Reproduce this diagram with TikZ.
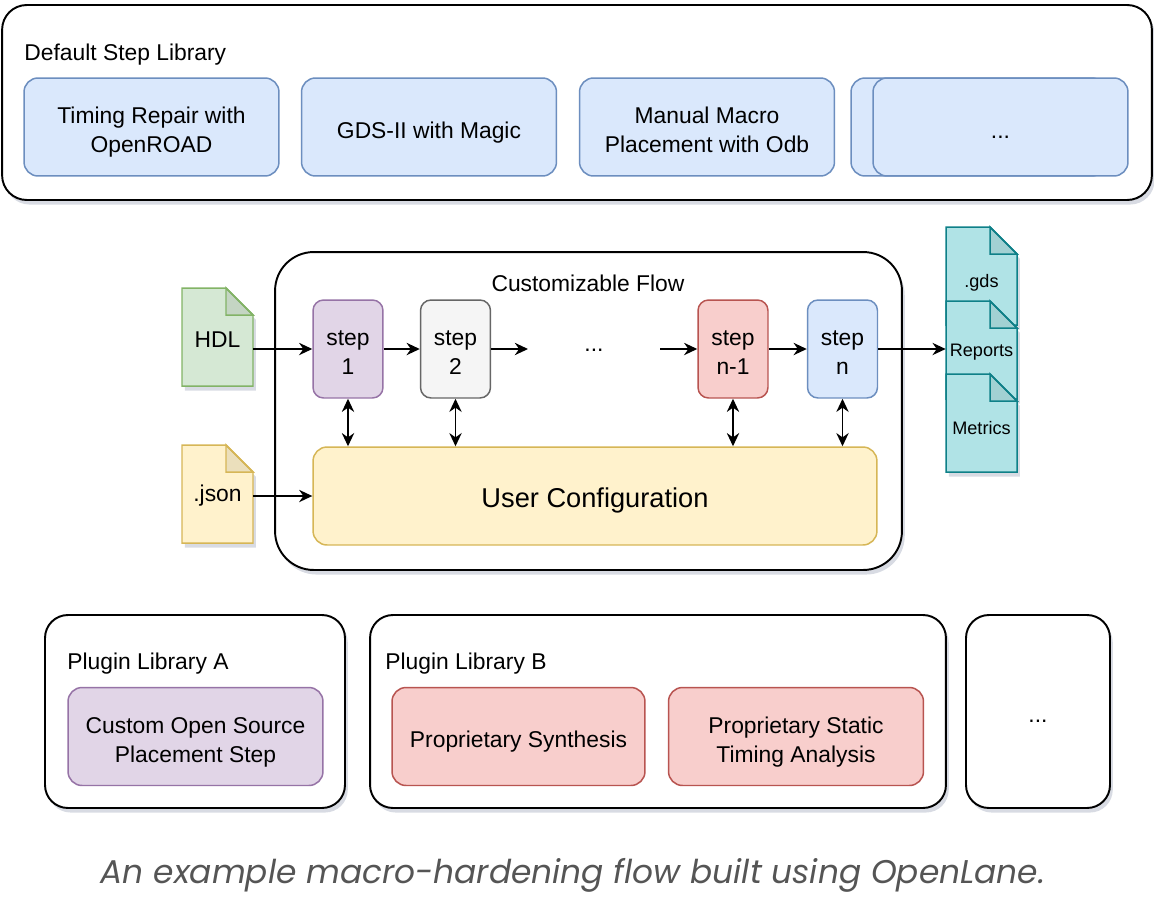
\documentclass[tikz,border=0pt]{standalone}
\usepackage{fontspec}
\setmainfont{Liberation Sans}
\newfontfamily\capfont{Poppins}
\usetikzlibrary{arrows.meta, positioning, calc, shadows}

\definecolor{BlueFill}{HTML}{DAE8FC}
\definecolor{BlueLine}{HTML}{6C8EBF}
\definecolor{PurpleFill}{HTML}{E1D5E7}
\definecolor{PurpleLine}{HTML}{9673A6}
\definecolor{RedFill}{HTML}{F8CECC}
\definecolor{RedLine}{HTML}{B85450}
\definecolor{GrayFill}{HTML}{F5F5F5}
\definecolor{GrayLine}{HTML}{666666}
\definecolor{GreenFill}{HTML}{D5E8D4}
\definecolor{GreenLine}{HTML}{82B366}
\definecolor{YellowFill}{HTML}{FFF2CC}
\definecolor{YellowLine}{HTML}{D6B656}
\definecolor{TealFill}{HTML}{B0E3E6}
\definecolor{TealLine}{HTML}{0E8088}
\definecolor{ShadowGray}{HTML}{7F89A3}
\definecolor{CaptionGray}{HTML}{555555}

% box text, set a little low as in the drawing tool
\newcommand{\boxtext}[1]{\raisebox{-3.2pt}[\height][\depth]{\begin{tabular}{@{}c@{}}#1\end{tabular}}}

\tikzset{
  softshadow/.style={drop shadow={shadow xshift=1.6pt, shadow yshift=-2.6pt,
                     fill=ShadowGray, opacity=0.3}},
  container/.style={draw=black, line width=1.1pt, fill=white, softshadow},
  libtitle/.style={anchor=west, inner sep=0pt, font=\fontsize{13}{16}\selectfont},
  stepbox/.style={rounded corners=8pt, line width=0.85pt,
                  minimum width=5.1cm, minimum height=1.96cm,
                  font=\fontsize{13}{16.4}\selectfont},
  flowstep/.style={rounded corners=6pt, line width=0.85pt,
                   minimum width=1.4cm, minimum height=1.96cm,
                   font=\fontsize{13}{16.4}\selectfont},
  bluebox/.style={fill=BlueFill, draw=BlueLine},
  docline/.style={line width=0.85pt},
  doclabel/.style={minimum width=1.42cm, inner sep=0pt},
  flowarrow/.style={line width=0.95pt, -{Stealth[length=7.5pt, width=7pt]}},
  bothways/.style={line width=0.95pt, {Stealth[length=7.5pt, width=7pt]}-{Stealth[length=7.5pt, width=7pt]}}
}

% dog-eared file: x, y of top left corner, fill, line
\newcommand{\docfile}[4]{%
  \filldraw[docline, fill=#3, draw=#4, softshadow]
    (#1,#2) -- ++(44,0) -- ++(27,27) -- (#1+71,#2+98) -- (#1,#2+98) -- cycle;
  \filldraw[docline, draw=#4, fill=black, fill opacity=0.08]
    (#1+44,#2) -- (#1+44,#2+27) -- (#1+71,#2+27) -- cycle;
}

\begin{document}
\begin{tikzpicture}[x=0.02cm, y=-0.02cm]
    \useasboundingbox (0,0) rectangle (1154,900);

    % Default step library
    \node[container, rounded corners=14pt, minimum width=23cm, minimum height=3.9cm] (default) at (577,102.5) {};
    \node[libtitle] (defaulttitle) at (24,55) {Default Step Library};
    \node[stepbox, bluebox] (timing) at (151.5,127) {\boxtext{Timing Repair with\\OpenROAD}};
    \node[stepbox, bluebox] (gds) at (429,127) {\boxtext{GDS-II with Magic}};
    \node[stepbox, bluebox] (macro) at (707,127) {\boxtext{Manual Macro\\Placement with Odb}};
    \node[stepbox, bluebox] (moreback) at (978.5,127) {};
    \node[stepbox, bluebox] (more) at (1000.5,127) {\boxtext{...}};

    % Customizable flow
    \node[container, rounded corners=22pt, minimum width=12.54cm, minimum height=6.36cm] (flow) at (588.5,411) {};
    \node[font=\fontsize{13}{16}\selectfont] (flowtitle) at (588,283) {Customizable Flow};
    \node[flowstep, fill=PurpleFill, draw=PurpleLine] (step1) at (348,349) {\boxtext{step\\1}};
    \node[flowstep, fill=GrayFill, draw=GrayLine] (step2) at (455.5,349) {\boxtext{step\\2}};
    \node[font=\fontsize{13}{16}\selectfont] (dots) at (594,350) {...};
    \node[flowstep, fill=RedFill, draw=RedLine] (stepn1) at (733,349) {\boxtext{step\\n-1}};
    \node[flowstep, bluebox] (stepn) at (842.5,349) {\boxtext{step\\n}};
    \node[stepbox, fill=YellowFill, draw=YellowLine, minimum width=11.28cm,
          font=\fontsize{15.5}{18}\selectfont] (cfg) at (595,496) {\boxtext{User Configuration}};
    \coordinate (gapL) at (528,349);
    \coordinate (gapR) at (660,349);

    % Input files
    \docfile{182}{288}{GreenFill}{GreenLine}
    \node[doclabel, font=\fontsize{13}{16}\selectfont] (hdl) at (217.5,340) {HDL};
    \docfile{182}{445}{YellowFill}{YellowLine}
    \node[doclabel, font=\fontsize{13}{16}\selectfont] (json) at (217.5,496) {.json};

    % Output files
    \docfile{946}{227}{TealFill}{TealLine}
    \node[doclabel, font=\fontsize{10.3}{12}\selectfont] (gdsout) at (981.5,283) {.gds};
    \docfile{946}{301}{TealFill}{TealLine}
    \node[doclabel, font=\fontsize{10.3}{12}\selectfont] (reports) at (981.5,352) {Reports};
    \docfile{946}{374}{TealFill}{TealLine}
    \node[doclabel, font=\fontsize{10.3}{12}\selectfont] (metrics) at (981.5,428) {Metrics};

    % Flow connections
    \draw[flowarrow] (hdl.east |- step1.west) -- (step1.west);
    \draw[flowarrow] (step1) -- (step2);
    \draw[flowarrow] (step2) -- (gapL);
    \draw[flowarrow] (gapR) -- (stepn1);
    \draw[flowarrow] (stepn1) -- (stepn);
    \draw[flowarrow] (stepn.east) -- (stepn.east -| reports.west);
    \draw[flowarrow] (json.east) -- (json.east -| cfg.west);
    \foreach \s in {step1, step2, stepn1, stepn}
        \draw[bothways] (\s.south) -- (\s.south |- cfg.north);

    % Plugin libraries
    \node[container, rounded corners=13pt, minimum width=6cm, minimum height=3.86cm] (pluginA) at (195,711.5) {};
    \node[libtitle] (pluginAtitle) at (67,664) {Plugin Library A};
    \node[stepbox, fill=PurpleFill, draw=PurpleLine] (placement) at (195.5,736.5) {\boxtext{Custom Open Source\\Placement Step}};
    \node[container, rounded corners=13pt, minimum width=11.52cm, minimum height=3.86cm] (pluginB) at (658,711.5) {};
    \node[libtitle] (pluginBtitle) at (385,664) {Plugin Library B};
    \node[stepbox, fill=RedFill, draw=RedLine, minimum width=5.06cm] (synth) at (518.5,736.5) {\boxtext{Proprietary Synthesis}};
    \node[stepbox, fill=RedFill, draw=RedLine] (sta) at (796,736.5) {\boxtext{Proprietary Static\\Timing Analysis}};
    \node[container, rounded corners=13pt, minimum width=2.88cm, minimum height=3.86cm,
          font=\fontsize{13}{16}\selectfont] (pluginmore) at (1038,711.5) {\boxtext{...}};

    % Caption
    \node[text=CaptionGray, font=\capfont\itshape\fontsize{18.7}{22}\selectfont] (caption) at (573,875)
        {An example macro-hardening flow built using OpenLane.};
\end{tikzpicture}
\end{document}
